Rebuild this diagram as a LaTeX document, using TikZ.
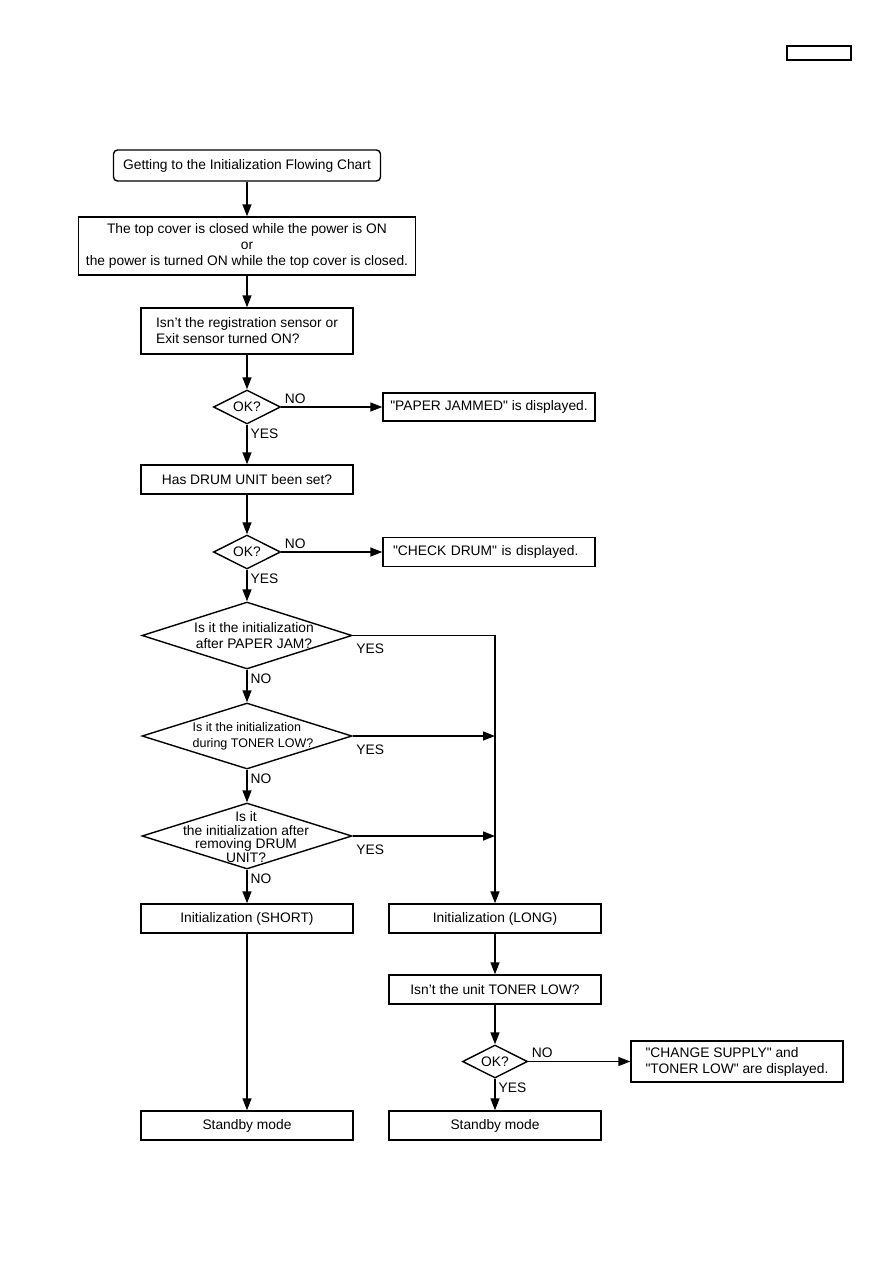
\documentclass[tikz,border=0pt]{standalone}
\usepackage{fontspec}
\setmainfont{Liberation Sans}
\usepackage{tikz}
\usetikzlibrary{positioning,shapes,arrows.meta}
\usetikzlibrary{shapes.geometric}

\begin{document}
\begin{tikzpicture}[x=1pt,y=-1pt,
  txt/.style={font=\fontsize{13.8}{16}\selectfont},
  box/.style={draw,line width=1.4pt,shape=rectangle,txt,minimum width=212pt,minimum height=29pt,align=center},
  msgbox/.style={box,align=left},
  decision/.style={draw,line width=1.4pt,shape=diamond,inner sep=0pt,aspect=2,txt},
  flow/.style={line width=1.4pt,-{Triangle[length=12pt,width=9pt]}},
  lbl/.style={txt,inner sep=3pt}]%[scale=2.5]
\useasboundingbox (0,0) rectangle (893,1263);
\draw node (tag) at (819,53) [draw,line width=1.2pt,minimum width=64pt,minimum height=14pt]{};

% main column
\draw node (start) at (247,165.5) [box,rounded corners=4pt,minimum width=267pt,minimum height=31pt]{Getting to the Initialization Flowing Chart};
\draw node (cover) at (247,246) [box,minimum width=337pt,minimum height=58pt]{The top cover is closed while the power is ON\\or\\the power is turned ON while the top cover is closed.};
\draw node (sensor) at (247,331) [box,minimum height=46pt,align=left]{Isn't the registration sensor or\\Exit sensor turned ON?};
\draw node (ok1) at (247,407) [decision,minimum width=67pt,minimum height=34pt]{OK?};
\draw node (jam) at (489,407) [msgbox,minimum height=28pt]{\textquotedbl PAPER JAMMED\textquotedbl{} is displayed.};
\draw node (drum) at (247,479.5) [box]{Has DRUM UNIT been set?};
\draw node (ok2) at (247,552) [decision,minimum width=67pt,minimum height=34pt]{OK?};
\draw node (chk) at (489,552) [msgbox,text width=192pt,inner xsep=10pt]{\textquotedbl CHECK DRUM\textquotedbl{} is displayed.};

\draw node (q1) at (247,635.5) [decision,minimum width=210pt,minimum height=67pt]{};
\draw node (q1text) at (254,635.5) [txt,align=center]{Is it the initialization\\after PAPER JAM?};
\draw node (q2) at (247,736) [decision,minimum width=210pt,minimum height=66pt]{};
\draw node (q2text) at (253,736) [font=\fontsize{12.5}{16}\selectfont,align=left]{Is it the initialization\\during TONER LOW?};
\draw node (q3) at (247,836) [decision,minimum width=210pt,minimum height=66pt]{};
\draw node (q3text) at (246,837) [font=\fontsize{13.8}{13.5}\selectfont,align=center]{Is it\\the initialization after\\removing DRUM\\UNIT?};

\draw node (short) at (247,918.5) [box]{Initialization (SHORT)};
\draw node (long) at (495,918.5) [box]{Initialization (LONG)};
\draw node (toner) at (495,989.5) [box]{Isn't the unit TONER LOW?};
\draw node (ok3) at (495,1061.5) [decision,minimum width=65pt,minimum height=33pt]{OK?};
\draw node (chg) at (737,1061.5) [msgbox,minimum height=41pt]{\textquotedbl CHANGE SUPPLY\textquotedbl{} and\\\textquotedbl TONER LOW\textquotedbl{} are displayed.};
\draw node (standL) at (247,1125.5) [box]{Standby mode};
\draw node (standR) at (495,1125.5) [box]{Standby mode};

% connectors
\draw[flow] (start) -- (cover);
\draw[flow] (cover) -- (sensor);
\draw[flow] (sensor) -- (ok1);
\draw[flow] (ok1) -- node[lbl,pos=0,above right]{NO} (jam);
\draw[flow] (ok1) -- node[lbl,pos=0,below right]{YES} (drum);
\draw[flow] (drum) -- (ok2);
\draw[flow] (ok2) -- node[lbl,pos=0,above right]{NO} (chk);
\draw[flow] (ok2) -- node[lbl,pos=0,below right]{YES} (q1);
\draw[flow] (q1) -- node[lbl,pos=0,below right]{NO} (q2);
\draw[flow] (q2) -- node[lbl,pos=0,below right]{NO} (q3);
\draw[flow] (q3) -- node[lbl,pos=0,below right]{NO} (short);
\draw[flow] (q1.east) node[lbl,below right,yshift=-5pt]{YES} -- (q1.east -| long.north) -- (long.north);
\draw[flow] (q2.east) node[lbl,below right,yshift=-5pt]{YES} -- (q2.east -| long.north);
\draw[flow] (q3.east) node[lbl,below right,yshift=-5pt]{YES} -- (q3.east -| long.north);
\draw[flow] (short) -- (standL);
\draw[flow] (long) -- (toner);
\draw[flow] (toner) -- (ok3);
\draw[flow] (ok3) -- node[lbl,pos=0,above right]{NO} (chg);
\draw[flow] (ok3) -- node[lbl,pos=0,below right]{YES} (standR);
\end{tikzpicture}
\end{document}
